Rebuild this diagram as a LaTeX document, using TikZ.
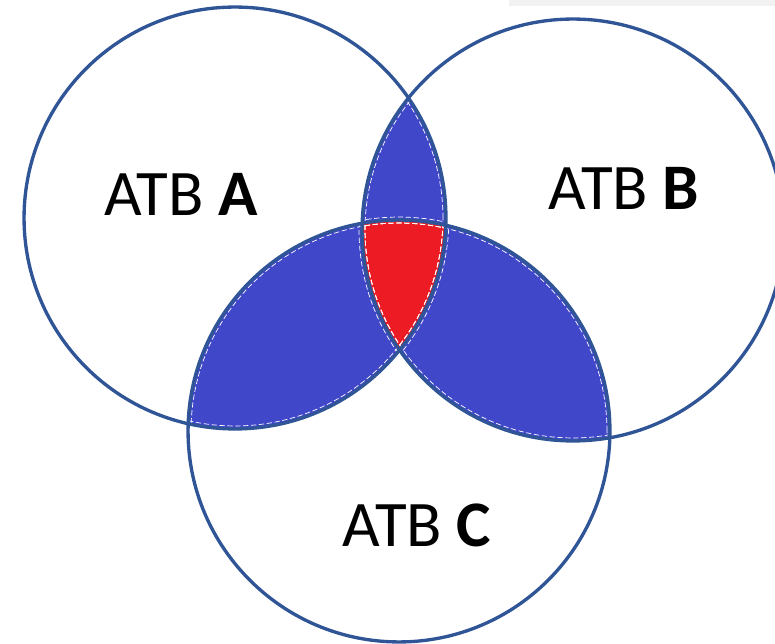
\documentclass[tikz,border=0pt]{standalone}
\usepackage{fontspec}
\setmainfont{Carlito}
\usepackage{tikz}
\usetikzlibrary{positioning}
\definecolor{ringblue}{RGB}{47,85,151}
\definecolor{lensblue}{RGB}{64,71,201}
\definecolor{corered}{RGB}{237,28,36}
\tikzset{
ring/.style = {draw=ringblue, line width=1.9pt},
seam/.style = {draw=white, line width=0.4pt, dash pattern=on 3pt off 1.5pt},
lbl/.style = {font=\fontsize{37}{42}\selectfont, inner sep=0pt}
}
\newcommand{\disc}[1]{(#1) circle[radius=4.22cm]}
\newcommand{\seams}{\foreach \c in {A,B,C} {\draw[seam] (\c) circle[radius=4.16cm] (\c) circle[radius=4.28cm];}}
\newcommand{\lens}[2]{\begin{scope}\clip \disc{#1}; \fill[lensblue] \disc{#2}; \end{scope}}
\newcommand{\lensseams}[2]{\begin{scope}\clip \disc{#1}; \clip \disc{#2}; \seams; \end{scope}}

\begin{document}
\begin{tikzpicture}[x=0.02cm,y=-0.02cm]
        \useasboundingbox (0,0) rectangle (775,644);
        \fill[gray!10] (509,0) rectangle (775,6);
        \coordinate (A) at (235,218);
        \coordinate (B) at (573,230);
        \coordinate (C) at (399,431);
        \lens{A}{B};
        \lens{A}{C};
        \lens{B}{C};
        \begin{scope}
          \clip \disc{A}; \clip \disc{B};
          \fill[corered] \disc{C};
        \end{scope}
        \lensseams{A}{B};
        \lensseams{A}{C};
        \lensseams{B}{C};
        \foreach \c in {A,B,C} {\draw[ring] \disc{\c};}
        \node[lbl] (labA) at (181,194) {ATB \textbf{A}};
        \node[lbl] (labB) at (624,188) {ATB \textbf{B}};
        \node[lbl] (labC) at (417,525) {ATB \textbf{C}};
        \end{tikzpicture}
\end{document}
